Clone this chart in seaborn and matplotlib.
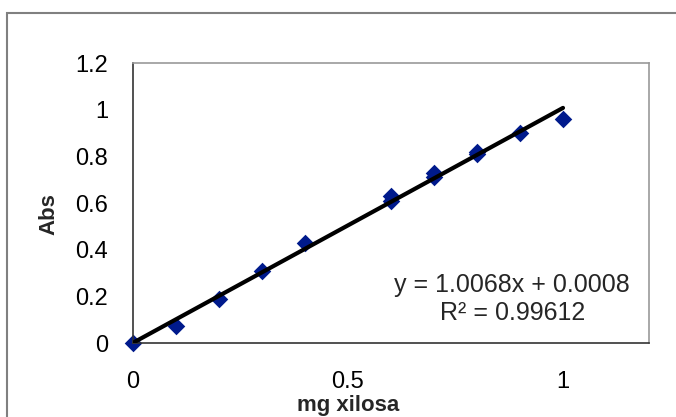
import matplotlib
matplotlib.use("Agg")
import matplotlib.pyplot as plt
import seaborn as sns
import pandas as pd
from matplotlib.patches import Rectangle

sns.set_theme(style="white")
plt.rcParams['font.family'] = ['Liberation Sans', 'DejaVu Sans']

mg_xilosa = [0.0, 0.1, 0.2, 0.3, 0.4, 0.6, 0.6, 0.7, 0.7, 0.8, 0.8, 0.9, 1.0]
abs_vals = [0.0, 0.075, 0.19, 0.31, 0.43, 0.61, 0.63, 0.71, 0.73, 0.81, 0.82, 0.90, 0.96]
slope = 1.0068
intercept = 0.0008
r2 = 0.99612
x_ticks = [0, 0.5, 1]
x_tick_labels = ["0", "0.5", "1"]
y_ticks = [0, 0.2, 0.4, 0.6, 0.8, 1.0, 1.2]
y_tick_labels = ["0", "0.2", "0.4", "0.6", "0.8", "1", "1.2"]

df = pd.DataFrame({"mg xilosa": mg_xilosa, "Abs": abs_vals})
fit = pd.DataFrame({"x": [0.0, 1.0]})
fit["y"] = slope * fit["x"] + intercept

fig = plt.figure(figsize=(6.76, 4.17), dpi=100)
ax = fig.add_axes([133/676, 1 - 343/417, (649-133)/676, (343-63)/417])

sns.scatterplot(data=df, x="mg xilosa", y="Abs", ax=ax, marker="D", s=80,
                color="#001a8c", edgecolor="#001a8c", linewidth=0, zorder=2,
                clip_on=False)
sns.lineplot(data=fit, x="x", y="y", ax=ax, color="black", linewidth=3.0, zorder=3)

ax.set_xlim(0, 1.2)
ax.set_ylim(0, 1.2)
ax.set_xticks(x_ticks)
ax.set_xticklabels(x_tick_labels)
ax.set_yticks(y_ticks)
ax.set_yticklabels(y_tick_labels)
ax.tick_params(axis="both", which="both", direction="out", length=5, width=1,
               color="#333333", labelsize=17, labelcolor="black")
ax.tick_params(axis="x", pad=15)
ax.tick_params(axis="y", pad=13)

for side in ["left", "bottom"]:
    ax.spines[side].set_color("#333333")
    ax.spines[side].set_linewidth(1.2)
for side in ["top", "right"]:
    ax.spines[side].set_color("#999999")
    ax.spines[side].set_linewidth(1.2)

ax.set_xlabel("mg xilosa", fontsize=16, fontweight="bold")
ax.set_ylabel("Abs", fontsize=16, fontweight="bold")
ax.xaxis.set_label_coords(0.4167, -0.185)
ax.yaxis.set_label_coords(-0.143, 0.46)

ax.text(0.735, 0.207, f"y = {slope}x + {intercept}", transform=ax.transAxes,
        ha="center", va="center", fontsize=18)
ax.text(0.735, 0.107, f"R² = {r2}", transform=ax.transAxes,
        ha="center", va="center", fontsize=18)

fig.patches.append(Rectangle((7/676, -0.1), 1.2, 1 - 13/417 + 0.1,
                             transform=fig.transFigure, fill=False,
                             edgecolor="#808080", linewidth=1.5))

fig.savefig("out.png", dpi=100)
